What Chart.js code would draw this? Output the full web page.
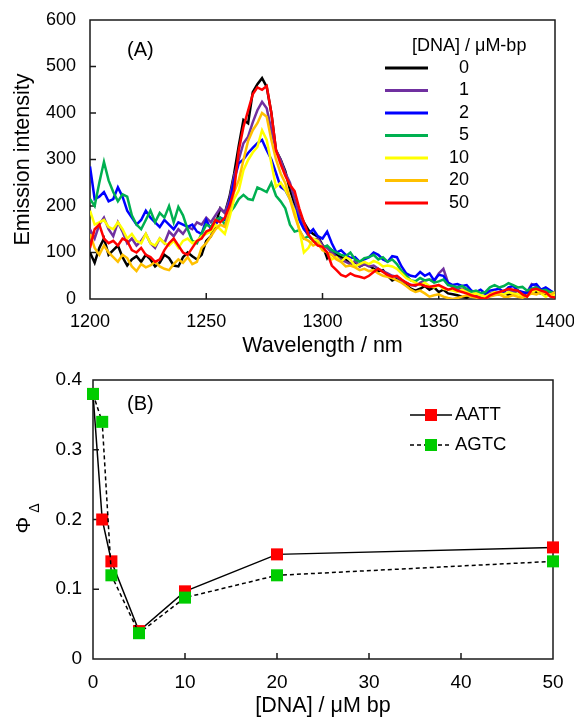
<!DOCTYPE html>
<html>
<head>
<meta charset="utf-8">
<script src="https://cdn.jsdelivr.net/npm/chart.js@4.4.0/dist/chart.umd.min.js"></script>
<style>
  body { margin: 0; background: #fff; }
  .panel { position: absolute; left: 0; width: 574px; height: 360px; }
</style>
</head>
<body>
<div class="panel" style="top:0"><canvas id="specChart" width="574" height="360"></canvas></div>
<div class="panel" style="top:360px"><canvas id="yieldChart" width="574" height="360"></canvas></div>
<script>
// panel A: emission spectra, one value every 2 nm
const wavelengths = [
  1200, 1202, 1204, 1206, 1208, 1210, 1212, 1214, 1216, 1218,
  1220, 1222, 1224, 1226, 1228, 1230, 1232, 1234, 1236, 1238,
  1240, 1242, 1244, 1246, 1248, 1250, 1252, 1254, 1256, 1258,
  1260, 1262, 1264, 1266, 1268, 1270, 1272, 1274, 1276, 1278,
  1280, 1282, 1284, 1286, 1288, 1290, 1292, 1294, 1296, 1298,
  1300, 1302, 1304, 1306, 1308, 1310, 1312, 1314, 1316, 1318,
  1320, 1322, 1324, 1326, 1328, 1330, 1332, 1334, 1336, 1338,
  1340, 1342, 1344, 1346, 1348, 1350, 1352, 1354, 1356, 1358,
  1360, 1362, 1364, 1366, 1368, 1370, 1372, 1374, 1376, 1378,
  1380, 1382, 1384, 1386, 1388, 1390, 1392, 1394, 1396, 1398,
  1400
];

const int0 = [
  100, 78, 110, 130, 95, 105, 115, 90, 72, 85,
  92, 80, 95, 85, 70, 78, 95, 88, 72, 70,
  90, 100, 92, 85, 95, 125, 135, 160, 195, 185,
  220, 270, 330, 385, 378, 445, 462, 475, 456, 400,
  320, 300, 275, 235, 205, 185, 165, 148, 140, 134,
  116, 88, 105, 95, 90, 85, 75, 80, 70, 75,
  72, 65, 60, 62, 50, 40, 45, 38, 30, 22,
  18, 22, 28, 20, 25, 15, 20, 12, 10, 8,
  5, 3, 8, 10, 5, 2, 8, 12, 10, 15,
  8, 14, 18, 12, 10, 20, 15, 12, 10, 14,
  8
];
const int1 = [
  150, 130, 160, 175, 150, 135, 165, 145, 120, 130,
  115, 125, 140, 120, 110, 130, 120, 145, 135, 150,
  140, 155, 150, 165, 160, 175, 165, 180, 195, 185,
  215, 265, 300, 335, 349, 380, 406, 424, 410, 363,
  320, 299, 271, 250, 215, 180, 152, 135, 128, 130,
  115, 110, 100, 90, 85, 80, 75, 82, 70, 75,
  70, 72, 65, 60, 55, 50, 48, 40, 35, 30,
  28, 35, 40, 42, 38, 55, 65, 35, 25, 20,
  22, 18, 12, 8, 5, 8, 12, 15, 12, 18,
  20, 15, 18, 12, 15, 32, 28, 18, 20, 15,
  10
];
const int2 = [
  285, 215, 220, 230, 210, 215, 240, 220, 190, 175,
  160, 170, 190, 175, 165, 155, 170, 160, 150, 165,
  160, 155, 160, 145, 140, 170, 150, 160, 175, 170,
  205, 256, 292, 300, 314, 325, 335, 342, 320, 300,
  271, 241, 234, 215, 195, 170, 150, 140, 150, 135,
  130, 145, 120, 100, 105, 95, 88, 90, 80, 85,
  90, 100, 95, 85, 80, 92, 90, 70, 55, 50,
  48, 58, 50, 55, 40, 52, 50, 35, 30, 32,
  28, 30, 18, 15, 20, 12, 18, 20, 22, 15,
  25, 28, 18, 15, 12, 30, 32, 20, 25, 18,
  12
];
const int5 = [
  215, 200, 250, 295, 255, 230, 210, 225, 220, 180,
  160, 150, 170, 190, 165, 185, 175, 200, 165, 198,
  180, 150, 125, 120, 140, 160, 155, 170, 175, 160,
  185, 198, 215, 224, 215, 213, 240, 235, 230, 250,
  222, 210, 195, 160, 145, 148, 130, 135, 125, 120,
  110, 115, 105, 100, 95, 92, 100, 85, 80, 88,
  90, 95, 85, 90, 80, 85, 75, 60, 50, 40,
  38, 45, 40, 42, 35, 38, 42, 30, 28, 25,
  28, 22, 15, 18, 12, 15, 25, 30, 25, 28,
  34, 30, 25, 26, 18, 22, 25, 18, 20, 15,
  12
];
const int10 = [
  190, 160, 165, 170, 155, 150, 165, 150, 130, 140,
  125, 120, 140, 120, 115, 130, 120, 115, 125, 110,
  125, 130, 120, 125, 135, 140, 145, 160, 150, 140,
  175, 215, 234, 277, 299, 315, 327, 363, 342, 292,
  241, 250, 235, 215, 190, 150, 100, 110, 130, 125,
  110, 100, 85, 90, 80, 90, 85, 70, 75, 80,
  75, 82, 78, 70, 72, 70, 65, 55, 45, 40,
  35, 30, 35, 28, 25, 30, 22, 20, 18, 15,
  20, 15, 10, 12, 8, 5, 10, 15, 12, 10,
  15, 12, 10, 8, 5, 15, 20, 12, 5, 10,
  8
];
const int20 = [
  140, 110, 95, 115, 100, 90, 80, 95, 88, 70,
  60, 75, 68, 72, 80, 70, 65, 62, 75, 85,
  78, 90, 75, 80, 110, 120, 135, 150, 160, 155,
  190, 230, 256, 299, 340, 363, 378, 400, 392, 342,
  300, 270, 249, 215, 180, 150, 130, 125, 115, 120,
  105, 100, 95, 85, 80, 70, 72, 68, 62, 65,
  60, 62, 55, 50, 48, 45, 40, 35, 28, 20,
  15, 18, 12, 5, 8, 10, 5, 2, 0, 2,
  5, 8, 5, 3, 0, 2, 5, 8, 10, 5,
  5, 8, 5, 3, 8, 12, 10, 15, 12, 9,
  15
];
const int50 = [
  110, 150, 160, 130, 120, 125, 115, 130, 125, 105,
  100, 110, 95, 90, 80, 85, 105, 120, 130, 115,
  100, 95, 110, 125, 130, 145, 150, 170, 165, 175,
  200, 235, 320, 370, 405, 440, 455, 450, 458, 400,
  320, 290, 265, 245, 232, 195, 165, 138, 125, 115,
  112, 100, 72, 62, 52, 48, 55, 50, 48, 45,
  50, 58, 65, 58, 52, 48, 50, 42, 35, 30,
  30, 32, 28, 26, 28, 30, 25, 20, 23, 18,
  15, 12, 8, 5, 2, 0, 8, 12, 15, 18,
  22, 20, 18, 10, 5, 20, 22, 18, 15, 5,
  3
];

const concLabels = ['0', '1', '2', '5', '10', '20', '50'];
const specTicksX = [1200, 1250, 1300, 1350, 1400];
const specTicksY = [0, 100, 200, 300, 400, 500, 600];

// panel B: singlet oxygen yield vs DNA concentration
const dnaConc = [0, 1, 2, 5, 10, 20, 50];
const phiAATT = [0.38, 0.20, 0.14, 0.04, 0.097, 0.15, 0.16];
const phiAGTC = [0.38, 0.34, 0.12, 0.037, 0.088, 0.12, 0.14];
const yieldTicksX = [0, 10, 20, 30, 40, 50];
const yieldTicksY = [0, 0.1, 0.2, 0.3, 0.4];

const FONT = "'Liberation Sans', Arial, sans-serif";
Chart.defaults.font.family = FONT;
Chart.defaults.color = '#000';

const specSeries = [
  { label: concLabels[0], data: int0, color: '#000000' },
  { label: concLabels[1], data: int1, color: '#7030A0' },
  { label: concLabels[2], data: int2, color: '#0000FF' },
  { label: concLabels[3], data: int5, color: '#00B050' },
  { label: concLabels[4], data: int10, color: '#FFFF00' },
  { label: concLabels[5], data: int20, color: '#FFC000' },
  { label: concLabels[6], data: int50, color: '#FF0000' }
];

// fixed axis boxes so the plot area lands where the original's does
const fixX = s => { s.height = 61; s.paddingLeft = 0; s.paddingRight = 0; };
const fixY = w => s => { s.width = w; s.paddingTop = 0; s.paddingBottom = 0; };

// frame round the plot area + short inward ticks
const boxTicks = {
  id: 'boxTicks',
  beforeDatasetsDraw(chart) {
    const { ctx, chartArea: a, scales: { x, y } } = chart;
    ctx.save();
    ctx.strokeStyle = '#1a1a1a';
    ctx.lineWidth = 1.5;
    ctx.strokeRect(a.left, a.top, a.right - a.left, a.bottom - a.top);
    ctx.beginPath();
    x.ticks.forEach(t => {
      if (t.value <= x.min || t.value >= x.max) return;
      const px = x.getPixelForValue(t.value);
      ctx.moveTo(px, a.bottom);
      ctx.lineTo(px, a.bottom - 6);
    });
    y.ticks.forEach(t => {
      if (t.value <= y.min || t.value >= y.max) return;
      const py = y.getPixelForValue(t.value);
      ctx.moveTo(a.left, py);
      ctx.lineTo(a.left + 6, py);
    });
    ctx.stroke();
    ctx.restore();
  }
};

const specLegend = {
  id: 'specLegend',
  afterDraw(chart) {
    const ctx = chart.ctx;
    ctx.save();
    ctx.fillStyle = '#000';
    ctx.textBaseline = 'middle';
    ctx.font = `20px ${FONT}`;
    ctx.textAlign = 'left';
    ctx.fillText('(A)', 127, 50);
    ctx.font = `18px ${FONT}`;
    ctx.fillText('[DNA] / μM-bp', 412, 46);
    specSeries.forEach((s, i) => {
      const ly = 68 + i * 22.5;
      ctx.strokeStyle = s.color;
      ctx.lineWidth = 3;
      ctx.beginPath();
      ctx.moveTo(385, ly);
      ctx.lineTo(428, ly);
      ctx.stroke();
      ctx.textAlign = 'right';
      ctx.fillText(s.label, 469, ly);
    });
    ctx.restore();
  }
};

new Chart(document.getElementById('specChart'), {
  type: 'line',
  data: {
    datasets: specSeries.map((s, i) => ({
      label: s.label,
      data: wavelengths.map((w, k) => ({ x: w, y: s.data[k] })),
      borderColor: s.color,
      borderWidth: 2.5,
      pointRadius: 0,
      tension: 0,
      order: specSeries.length - i
    }))
  },
  options: {
    responsive: false,
    animation: false,
    layout: { padding: { left: 0, right: 19, top: 20, bottom: 0 } },
    plugins: { legend: { display: false }, tooltip: { enabled: false } },
    scales: {
      x: {
        type: 'linear', min: 1200, max: 1400,
        afterBuildTicks: s => { s.ticks = specTicksX.map(v => ({ value: v })); },
        afterFit: fixX,
        grid: { display: false, drawTicks: false },
        border: { display: false },
        ticks: { padding: 12, font: { size: 18 }, color: '#000', autoSkip: false, maxRotation: 0, callback: v => String(v) },
        title: { display: true, text: 'Wavelength / nm', font: { size: 21.5 }, color: '#000', padding: { top: 0, bottom: 1 } }
      },
      y: {
        min: 0, max: 600,
        afterBuildTicks: s => { s.ticks = specTicksY.map(v => ({ value: v })); },
        afterFit: fixY(90),
        grid: { display: false, drawTicks: false },
        border: { display: false },
        ticks: { padding: 14, font: { size: 18 }, color: '#000', autoSkip: false, callback: v => String(v) },
        title: { display: true, text: 'Emission intensity', font: { size: 21.5 }, color: '#000', padding: { top: 10, bottom: 0 } }
      }
    }
  },
  plugins: [boxTicks, specLegend]
});

const yieldLegend = {
  id: 'yieldLegend',
  afterDraw(chart) {
    const ctx = chart.ctx;
    ctx.save();
    ctx.fillStyle = '#000';
    ctx.textBaseline = 'middle';
    ctx.textAlign = 'left';
    ctx.font = `20px ${FONT}`;
    ctx.fillText('(B)', 127, 44);
    const rows = [
      { text: 'AATT', color: '#FF0000', dash: [], y: 55 },
      { text: 'AGTC', color: '#00CC00', dash: [4, 3], y: 85 }
    ];
    ctx.font = `18.5px ${FONT}`;
    rows.forEach(r => {
      ctx.strokeStyle = '#000';
      ctx.lineWidth = 1.5;
      ctx.setLineDash(r.dash);
      ctx.beginPath();
      ctx.moveTo(410, r.y);
      ctx.lineTo(452, r.y);
      ctx.stroke();
      ctx.setLineDash([]);
      ctx.fillStyle = r.color;
      ctx.fillRect(425, r.y - 6, 12, 12);
      ctx.fillStyle = '#000';
      ctx.fillText(r.text, 455, r.y);
    });
    // y title: Phi with subscript Delta, rotated
    ctx.translate(24, 165);
    ctx.rotate(-Math.PI / 2);
    ctx.textAlign = 'center';
    ctx.font = `21px ${FONT}`;
    ctx.fillText('Φ', 0, 0);
    ctx.font = `14px ${FONT}`;
    ctx.fillText('Δ', 17, 11);
    ctx.restore();
  }
};

new Chart(document.getElementById('yieldChart'), {
  type: 'line',
  data: {
    datasets: [
      {
        label: 'AATT',
        data: dnaConc.map((c, i) => ({ x: c, y: phiAATT[i] })),
        borderColor: '#000', borderWidth: 1.5, tension: 0,
        pointStyle: 'rect', pointRadius: 8.5, pointBackgroundColor: '#FF0000', pointBorderWidth: 0,
        clip: false, order: 1
      },
      {
        label: 'AGTC',
        data: dnaConc.map((c, i) => ({ x: c, y: phiAGTC[i] })),
        borderColor: '#000', borderWidth: 1.5, borderDash: [4, 3], tension: 0,
        pointStyle: 'rect', pointRadius: 8.5, pointBackgroundColor: '#00CC00', pointBorderWidth: 0,
        clip: false, order: 0
      }
    ]
  },
  options: {
    responsive: false,
    animation: false,
    layout: { padding: { left: 0, right: 21, top: 20, bottom: 0 } },
    plugins: { legend: { display: false }, tooltip: { enabled: false } },
    scales: {
      x: {
        type: 'linear', min: 0, max: 50,
        afterBuildTicks: s => { s.ticks = yieldTicksX.map(v => ({ value: v })); },
        afterFit: fixX,
        grid: { display: false, drawTicks: false },
        border: { display: false },
        ticks: { padding: 12, font: { size: 19 }, color: '#000', autoSkip: false, maxRotation: 0, callback: v => String(v) },
        title: { display: true, text: '[DNA] / μM bp', font: { size: 21.5 }, color: '#000', padding: { top: 0, bottom: 1 } }
      },
      y: {
        min: 0, max: 0.4,
        afterBuildTicks: s => { s.ticks = yieldTicksY.map(v => ({ value: v })); },
        afterFit: fixY(93),
        grid: { display: false, drawTicks: false },
        border: { display: false },
        ticks: { padding: 11, font: { size: 19 }, color: '#000', autoSkip: false, callback: v => String(v) }
      }
    }
  },
  plugins: [boxTicks, yieldLegend]
});
</script>
</body>
</html>
